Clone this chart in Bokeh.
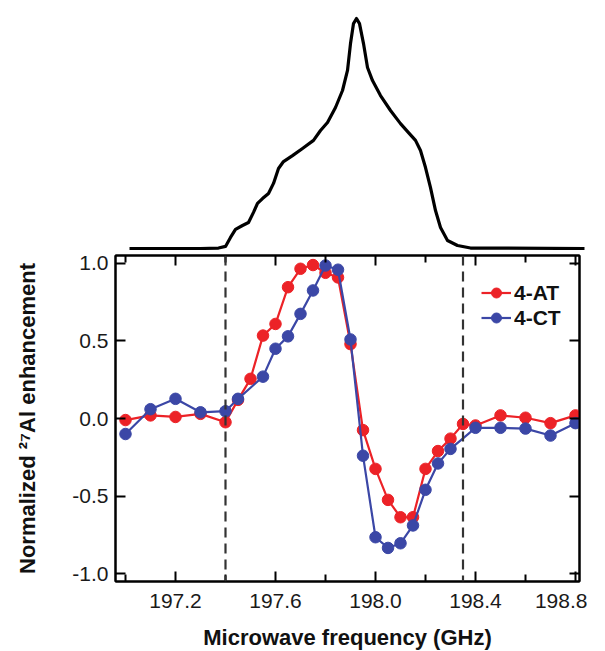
from bokeh.plotting import figure
from bokeh.layouts import column
from bokeh.models import (Range1d, FixedTicker, PrintfTickFormatter, LinearAxis, Span,
                          Legend, LegendItem, CustomJSTickFormatter)
from bokeh.embed import file_html
from bokeh.resources import INLINE

# ---- EPR-like spectrum (top trace) ----
spec_freq = [197.016, 197.30, 197.372, 197.40, 197.42, 197.44, 197.468, 197.492, 197.512,
             197.528, 197.548, 197.572, 197.592, 197.612, 197.632, 197.668, 197.708, 197.752,
             197.78, 197.808, 197.84, 197.868, 197.888, 197.90, 197.912, 197.924, 197.936,
             197.952, 197.968, 197.988, 198.02, 198.06, 198.10, 198.132, 198.16, 198.18,
             198.20, 198.22, 198.24, 198.26, 198.288, 198.328, 198.38, 198.836]
spec_int = [0.0, 0.0, 0.002, 0.009, 0.048, 0.083, 0.1, 0.113, 0.157,
            0.196, 0.217, 0.239, 0.283, 0.348, 0.378, 0.404, 0.435, 0.47,
            0.513, 0.548, 0.613, 0.687, 0.774, 0.891, 0.978, 1.0, 0.978,
            0.891, 0.787, 0.73, 0.665, 0.6, 0.543, 0.504, 0.47, 0.426,
            0.352, 0.265, 0.165, 0.091, 0.035, 0.013, 0.002, 0.0]

# ---- 4-AT ----
at_freq = [197.0, 197.1, 197.2, 197.3, 197.4, 197.45, 197.5, 197.55, 197.6, 197.65, 197.7,
           197.75, 197.8, 197.85, 197.9, 197.95, 198.0, 198.05, 198.1, 198.15, 198.2,
           198.25, 198.3, 198.35, 198.4, 198.5, 198.6, 198.7, 198.8]
at_enh = [-0.01, 0.02, 0.01, 0.03, -0.024, 0.12, 0.256, 0.535, 0.61, 0.847, 0.966,
          0.99, 0.94, 0.91, 0.48, -0.075, -0.325, -0.525, -0.637, -0.637, -0.325,
          -0.21, -0.13, -0.035, -0.045, 0.02, 0.005, -0.03, 0.02]

# ---- 4-CT ----
ct_freq = [197.0, 197.1, 197.2, 197.3, 197.4, 197.45, 197.55, 197.6, 197.65, 197.7, 197.75,
           197.8, 197.85, 197.9, 197.95, 198.0, 198.05, 198.1, 198.15, 198.2, 198.25,
           198.3, 198.4, 198.5, 198.6, 198.7, 198.8]
ct_enh = [-0.1, 0.06, 0.127, 0.04, 0.047, 0.127, 0.27, 0.45, 0.53, 0.675, 0.826,
          0.987, 0.96, 0.51, -0.24, -0.766, -0.835, -0.805, -0.69, -0.46, -0.29,
          -0.196, -0.06, -0.06, -0.065, -0.11, -0.03]

dash_positions = [197.4, 198.35]
x_major = [197.2, 197.6, 198.0, 198.4, 198.8]
x_minor = [197.0, 197.4, 197.8, 198.2, 198.6]
y_major = [-1.0, -0.5, 0.0, 0.5, 1.0]

RED = "#ec2227"
BLUE = "#3b47a6"
FONT = "Liberation Sans"

# ---- top figure ----
top = figure(frame_width=474, frame_height=242,
             x_range=Range1d(196.96, 198.856), y_range=Range1d(-0.0087, 1.0435),
             x_axis_location=None, y_axis_location=None,
             output_backend="svg", toolbar_location=None,
             min_border_left=115, min_border_right=0, min_border_top=8, min_border_bottom=0)
top.grid.visible = False
top.outline_line_color = None
top.line(spec_freq, spec_int, line_width=3.2, color="black", line_join="round")

# ---- bottom figure ----
p = figure(frame_width=464, frame_height=326,
           x_range=Range1d(196.96, 198.816), y_range=Range1d(-1.0516, 1.0516),
           output_backend="svg", toolbar_location=None,
           min_border_left=115, min_border_right=8, min_border_top=5, min_border_bottom=68)
p.grid.visible = False
p.outline_line_color = "black"
p.outline_line_width = 2

xt = FixedTicker(ticks=x_major, minor_ticks=x_minor)
yt = FixedTicker(ticks=y_major, minor_ticks=[])

def style_axis(ax):
    ax.axis_line_width = 2
    ax.axis_line_color = "black"
    ax.major_tick_in = 10
    ax.major_tick_out = 0
    ax.minor_tick_in = 7
    ax.minor_tick_out = 0
    ax.major_tick_line_width = 2
    ax.minor_tick_line_width = 2
    ax.major_tick_line_color = "black"
    ax.minor_tick_line_color = "black"
    ax.major_label_text_font = FONT
    ax.major_label_text_font_size = "21px"
    ax.major_label_text_color = "#1a1a1a"
    ax.axis_label_text_font = FONT
    ax.axis_label_text_font_size = "22px"
    ax.axis_label_text_font_style = "bold"
    ax.axis_label_text_color = "#111111"

xa = p.xaxis[0]
xa.ticker = xt
xa.formatter = PrintfTickFormatter(format="%.1f")
style_axis(xa)
xa.major_label_standoff = 12
xa.axis_label = "Microwave frequency (GHz)"
xa.axis_label_standoff = 14

ya = p.yaxis[0]
ya.ticker = yt
ya.formatter = PrintfTickFormatter(format="%.1f")
style_axis(ya)
ya.major_label_standoff = 7
ya.axis_label = "Normalized \u00b2\u2077Al enhancement"
ya.axis_label_standoff = 29

empty = CustomJSTickFormatter(code="return ''")
ax_top = LinearAxis(ticker=xt, formatter=empty, major_label_standoff=0)
style_axis(ax_top)
p.add_layout(ax_top, "above")
ax_right = LinearAxis(ticker=yt, formatter=empty, major_label_standoff=0)
style_axis(ax_right)
p.add_layout(ax_right, "right")

r_line = p.line(at_freq, at_enh, line_width=2.2, color=RED)
r_dot = p.scatter(at_freq, at_enh, size=11.5, color=RED)
b_line = p.line(ct_freq, ct_enh, line_width=2.2, color=BLUE)
b_dot = p.scatter(ct_freq, ct_enh, size=11.5, color=BLUE)

for xpos in dash_positions:
    p.add_layout(Span(location=xpos, dimension="height", line_color="#333333",
                      line_width=2.2, line_dash="10 6"))

legend = Legend(items=[LegendItem(label="4-AT", renderers=[r_line, r_dot]),
                       LegendItem(label="4-CT", renderers=[b_line, b_dot])],
                location=(366, 251), border_line_color=None, background_fill_alpha=0,
                padding=5, spacing=0, glyph_width=30, glyph_height=25, label_height=25,
                label_standoff=3, label_text_font=FONT, label_text_font_size="21px",
                label_text_font_style="bold", label_text_color="#111111")
p.add_layout(legend)

layout = column(top, p, spacing=0)
open("out.html", "w").write(file_html(layout, INLINE))
